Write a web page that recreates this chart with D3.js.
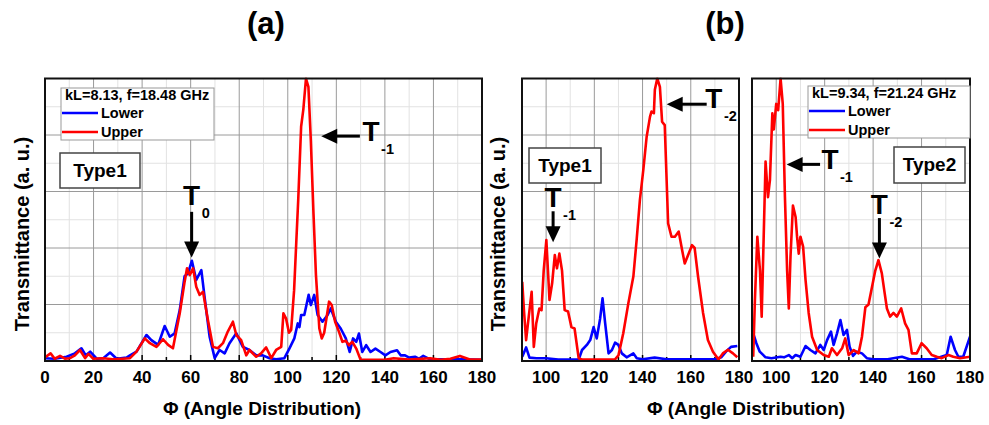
<!DOCTYPE html>
<html>
<head>
<meta charset="utf-8">
<script src="https://cdn.jsdelivr.net/npm/d3@7"></script>
<style>
  body { margin: 0; background: #fff; }
  text { font-family: "Liberation Sans", Arial, sans-serif; font-weight: bold; }
</style>
</head>
<body>
<svg id="chart" width="989" height="425"></svg>
<script>
// tick labels
var ticksA = [0, 20, 40, 60, 80, 100, 120, 140, 160, 180]
var ticksB = [100, 120, 140, 160, 180]

// panel (a): kL=8.13, f=18.48 GHz  -- [angle, transmittance]
var upperA = [[0,0.013],[2.3,0.027],[4,0.008],[6.2,0.018],[8.2,0.008],[10.3,0.01],[12.3,0.02],[14.4,0.039],[16.5,0.01],[17.9,0.025],
  [19.9,0.008],[24,0.01],[28,0.006],[32,0.008],[35,0.01],[37.7,0.033],[41.1,0.08],[43.2,0.063],[45.9,0.05],[48.6,0.077],
  [50.7,0.057],[52.7,0.045],[55.5,0.169],[57.5,0.28],[58.5,0.328],[59.6,0.304],[61,0.328],[62.3,0.263],[63.7,0.234],[65.1,0.245],
  [67.1,0.145],[69.2,0.05],[71.2,0.045],[73.3,0.063],[75.3,0.104],[77.4,0.139],[78.8,0.092],[80.8,0.074],[82.9,0.02],[84.2,0.039],
  [87,0.015],[89,0.027],[91.1,0.048],[93.2,0.01],[95.2,0.039],[97.3,0.05],[98.2,0.169],[99.3,0.15],[100.5,0.1],[101.4,0.11],
  [102.6,0.25],[103.5,0.42],[104.3,0.57],[105.5,0.83],[106.4,0.89],[107.5,1.0],[108.5,0.97],[109.5,0.78],[110.6,0.52],[111.6,0.305],
  [113,0.115],[114,0.08],[115,0.1],[117,0.21],[118.1,0.198],[119.5,0.139],[121.1,0.103],[122.5,0.068],[123.9,0.072],[125.2,0.056],
  [126.6,0.068],[128.2,0.044],[130,0.004],[135,0.004],[140,0.004],[143.6,0.01],[150,0.005],[158.6,0.01],[163,0.004],[167,0.008],
  [170.9,0.018],[175,0.005],[180,0.005]]
var lowerA = [[0,0.01],[4,0.008],[8.9,0.015],[12.3,0.027],[15,0.045],[16.8,0.02],[18.6,0.033],[21.3,0.008],[24,0.01],[26.8,0.03],
  [29.5,0.008],[33.6,0.012],[35,0.02],[37.7,0.033],[41.8,0.092],[43.8,0.074],[46.6,0.057],[49.3,0.124],[51.4,0.086],[53.4,0.098],
  [55.5,0.18],[57.5,0.3],[58.9,0.31],[60.5,0.355],[62.3,0.287],[64.4,0.322],[65.8,0.222],[67.8,0.086],[69.9,0.01],[71.9,0.039],
  [74,0.027],[76,0.063],[78.8,0.098],[81.5,0.05],[84.2,0.039],[87,0.02],[89.7,0.02],[92.5,0.01],[95.2,0.006],[98.6,0.01],
  [100.7,0.045],[102.7,0.08],[104.1,0.133],[104.8,0.12],[105.5,0.163],[106.8,0.163],[108.6,0.234],[109.5,0.198],[110.9,0.234],[112.3,0.163],
  [114.3,0.139],[116.4,0.163],[117.7,0.186],[119.8,0.139],[121.8,0.115],[123.9,0.08],[125.5,0.032],[126.9,0.08],[128.2,0.068],[129.3,0.097],
  [130.7,0.032],[132.3,0.056],[134.1,0.032],[136.1,0.044],[138.2,0.032],[140.2,0.02],[142.3,0.032],[145,0.038],[146.5,0.02],[148.3,0.02],
  [150,0.012],[152.4,0.015],[154,0.008],[155.8,0.018],[158.6,0.006],[165,0.006],[172,0.006],[180,0.004]]

// panel (b) left, Type1
var upperB1 = [[90.1,0.28],[90.8,0.18],[91.7,0.074],[92.8,0.157],[94,0.245],[94.9,0.05],[95.9,0.133],[97.2,0.186],[98.1,0.18],[99,0.32],
  [100.1,0.428],[101.4,0.216],[102.5,0.275],[103.6,0.375],[104.5,0.328],[105.5,0.38],[106.6,0.32],[107.7,0.18],[109.1,0.175],[110.5,0.12],
  [111.8,0.115],[113.5,0.01],[115,0.005],[120,0.005],[125,0.005],[128.5,0.005],[130,0.02],[132,0.098],[134.1,0.204],[136.2,0.3],
  [137.6,0.434],[138.9,0.57],[140.3,0.676],[141.7,0.794],[143.1,0.865],[143.7,0.883],[144.7,0.877],[145.1,0.96],[146.1,1.0],[147.2,0.97],
  [148.1,0.847],[149.2,0.835],[150.6,0.487],[152,0.44],[153.4,0.44],[155,0.458],[156.4,0.393],[157.5,0.345],[158.9,0.375],[160.5,0.41],
  [161.6,0.4],[163,0.3],[165.1,0.17],[167.1,0.074],[169.2,0.033],[171.5,0.005],[173.3,0.027],[175.4,0.04],[177.5,0.027],[179.3,0.013]]
var lowerB1 = [[90.1,0.015],[91.7,0.048],[93.1,0.012],[96,0.01],[100,0.01],[105,0.005],[110,0.005],[113.5,0.005],[114.9,0.039],[116.9,0.057],
  [118.3,0.074],[119.7,0.12],[121,0.08],[122.4,0.15],[123.4,0.222],[124.5,0.133],[125.9,0.027],[127.3,0.039],[128.6,0.065],[130,0.057],
  [131.4,0.027],[133.4,0.013],[136.2,0.027],[137.6,0.01],[140,0.006],[145,0.012],[150,0.006],[160,0.006],[170,0.006],[172.6,0.013],
  [174.6,0.033],[176.7,0.05],[179.3,0.053]]

// panel (b) right, Type2: kL=9.34, f=21.24 GHz
var upperB2 = [[90.5,0.015],[91.2,0.216],[92.2,0.44],[93.3,0.32],[94,0.157],[95.6,0.706],[96.6,0.58],[97.4,0.64],[98.4,0.877],[99,0.82],
  [100,0.91],[100.8,0.888],[101.8,1.0],[102.7,0.91],[103.6,0.58],[104.5,0.32],[105.2,0.186],[105.9,0.37],[106.9,0.55],[108,0.51],
  [108.6,0.44],[109.3,0.38],[110,0.44],[111.1,0.405],[112.1,0.287],[113.4,0.17],[114.8,0.086],[116.9,0.039],[119.6,0.021],[121.7,0.015],
  [123,0.045],[125.1,0.021],[127.2,0.045],[128.5,0.08],[129.9,0.021],[132,0.039],[134,0.027],[135.4,0.086],[136.8,0.19],[138.1,0.2],
  [139.5,0.26],[140.9,0.32],[142.2,0.357],[143.6,0.31],[144.6,0.25],[145.7,0.186],[147,0.157],[148.4,0.17],[149.8,0.157],[151.6,0.186],
  [153.2,0.133],[154.6,0.11],[156,0.027],[158,0.027],[160,0.063],[162.1,0.045],[164.2,0.021],[166.3,0.015],[168.3,0.01],[171.1,0.021],
  [173.1,0.015],[175.9,0.01],[180,0.015]]
var lowerB2 = [[90.5,0.098],[91.8,0.063],[93.2,0.033],[95.6,0.013],[98,0.01],[101.8,0.015],[103.2,0.013],[105.2,0.021],[106.6,0.01],[108,0.021],
  [110,0.015],[112.1,0.053],[114.1,0.039],[116.2,0.027],[118.2,0.057],[119.6,0.039],[121,0.074],[122.6,0.104],[123.7,0.057],[125.1,0.098],
  [126.5,0.145],[127.8,0.092],[129.2,0.11],[130.3,0.051],[131.7,0.018],[133.3,0.033],[135.4,0.027],[137.4,0.01],[140,0.006],[146,0.006],
  [151.9,0.015],[155,0.006],[165,0.006],[170.4,0.021],[172,0.086],[173.8,0.039],[175.2,0.015],[177.2,0.015],[180,0.086]]

var blue = "#0000ff", red = "#ff0000"
var plotTop = 78.5, plotBottom = 361

var svg = d3.select("#chart")
svg.append("rect").attr("width", 989).attr("height", 425).style("fill", "#fff")

var y = d3.scaleLinear().domain([0, 1]).range([plotBottom, plotTop])

var panels = [
  {x0: 45, x1: 482, domain: [0, 180], ticks: ticksA, upper: upperA, lower: lowerA},
  {x0: 522, x1: 739, domain: [90, 180], ticks: ticksB, upper: upperB1, lower: lowerB1},
  {x0: 752, x1: 970, domain: [90, 180], ticks: ticksB, upper: upperB2, lower: lowerB2}
]

panels.forEach(function(p, i) {
  var x = d3.scaleLinear().domain(p.domain).range([p.x0, p.x1])
  p.x = x
  var g = svg.append("g")

  // minor grid
  var minorX = d3.range(p.domain[0] + 10, p.domain[1], 10).filter(function(d){ return d % 20 != 0 })
  g.selectAll(".mx").data(minorX).enter().append("line")
    .attr("x1", x).attr("x2", x).attr("y1", plotTop).attr("y2", plotBottom)
    .style("stroke", "#e2e2e2").style("stroke-width", 1)
  g.selectAll(".my").data([0.1, 0.3, 0.5, 0.7, 0.9]).enter().append("line")
    .attr("x1", p.x0).attr("x2", p.x1).attr("y1", y).attr("y2", y)
    .style("stroke", "#e2e2e2").style("stroke-width", 1)
  // major grid
  var majorX = d3.range(p.domain[0] + 10, p.domain[1], 10).filter(function(d){ return d % 20 == 0 })
  g.selectAll(".gx").data(majorX).enter().append("line")
    .attr("x1", x).attr("x2", x).attr("y1", plotTop).attr("y2", plotBottom)
    .style("stroke", "#9a9a9a").style("stroke-width", 1)
  g.selectAll(".gy").data([0.2, 0.4, 0.6, 0.8]).enter().append("line")
    .attr("x1", p.x0).attr("x2", p.x1).attr("y1", y).attr("y2", y)
    .style("stroke", "#9a9a9a").style("stroke-width", 1)

  // inward ticks on the bottom
  var allX = d3.range(p.domain[0] + 10, p.domain[1], 10)
  g.selectAll(".tk").data(allX).enter().append("line")
    .attr("x1", x).attr("x2", x).attr("y1", plotBottom)
    .attr("y2", function(d){ return d % 20 == 0 ? plotBottom - 6 : plotBottom - 4 })
    .style("stroke", "#000").style("stroke-width", 1.5)

  // tick labels
  g.selectAll(".tl").data(p.ticks).enter().append("text")
    .attr("x", x).attr("y", 383)
    .attr("text-anchor", "middle")
    .attr("font-size", "17px")
    .text(function(d){ return d })

  // clip
  svg.append("clipPath").attr("id", "clip" + i).append("rect")
    .attr("x", p.x0).attr("y", plotTop - 1).attr("width", p.x1 - p.x0).attr("height", plotBottom - plotTop + 1)

  var line = d3.line().x(function(d){ return x(d[0]) }).y(function(d){ return y(d[1]) })
  var lg = svg.append("g").attr("clip-path", "url(#clip" + i + ")")
  lg.append("path").attr("d", line(p.lower))
    .style("fill", "none").style("stroke", blue).style("stroke-width", 2.6).style("stroke-linejoin", "round")
  lg.append("path").attr("d", line(p.upper))
    .style("fill", "none").style("stroke", red).style("stroke-width", 2.6).style("stroke-linejoin", "round")

  // frame
  svg.append("rect")
    .attr("x", p.x0).attr("y", plotTop).attr("width", p.x1 - p.x0).attr("height", plotBottom - plotTop)
    .style("fill", "none").style("stroke", "#111").style("stroke-width", 2)
})

// titles and axis labels
svg.append("text").attr("x", 266).attr("y", 34).attr("text-anchor", "middle").attr("font-size", "31px").text("(a)")
svg.append("text").attr("x", 725).attr("y", 34).attr("text-anchor", "middle").attr("font-size", "31px").text("(b)")

svg.append("text").attr("x", 262).attr("y", 415).attr("text-anchor", "middle").attr("font-size", "19px").text("\u03A6 (Angle Distribution)")
svg.append("text").attr("x", 746).attr("y", 415).attr("text-anchor", "middle").attr("font-size", "19px").text("\u03A6 (Angle Distribution)")

;[29, 505].forEach(function(xx) {
  svg.append("text")
    .attr("transform", "translate(" + xx + "," + 234 + ") rotate(-90)")
    .attr("text-anchor", "middle")
    .attr("font-size", "20px")
    .text("Transmittance (a. u.)")
})

// legends
function legend(x0, y0, w, title) {
  var g = svg.append("g").attr("transform", "translate(" + x0 + "," + y0 + ")")
  g.append("rect").attr("width", w).attr("height", 52)
    .style("fill", "#fff").style("stroke", "#999").style("stroke-width", 1)
  g.append("text").attr("x", 4).attr("y", 12).attr("font-size", "14.5px").text(title)
  g.append("line").attr("x1", 1).attr("x2", 37).attr("y1", 25).attr("y2", 25)
    .style("stroke", blue).style("stroke-width", 2.6)
  g.append("text").attr("x", 40).attr("y", 30).attr("font-size", "14.5px").text("Lower")
  g.append("line").attr("x1", 1).attr("x2", 37).attr("y1", 44).attr("y2", 44)
    .style("stroke", red).style("stroke-width", 2.6)
  g.append("text").attr("x", 40).attr("y", 49).attr("font-size", "14.5px").text("Upper")
}
legend(61, 88, 153, "kL=8.13, f=18.48 GHz")
legend(808, 86, 162, "kL=9.34, f=21.24 GHz")

// Type boxes
function typeBox(x0, y0, w, h, label) {
  svg.append("rect").attr("x", x0).attr("y", y0).attr("width", w).attr("height", h)
    .style("fill", "#fff").style("stroke", "#444").style("stroke-width", 1.5)
  svg.append("text").attr("x", x0 + w / 2).attr("y", y0 + 24).attr("text-anchor", "middle")
    .attr("font-size", "19px").text(label)
}
typeBox(60, 153, 80, 35, "Type1")
typeBox(529, 148, 72, 35, "Type1")
typeBox(894, 147, 71, 36, "Type2")

// arrows with filled heads
function arrow(x1, y1, x2, y2) {
  var dx = x2 - x1, dy = y2 - y1, len = Math.sqrt(dx * dx + dy * dy)
  var ux = dx / len, uy = dy / len, hl = 16, hw = 7.5
  var bx = x2 - ux * hl, by = y2 - uy * hl
  svg.append("line").attr("x1", x1).attr("y1", y1).attr("x2", bx + ux).attr("y2", by + uy)
    .style("stroke", "#000").style("stroke-width", 3)
  svg.append("path")
    .attr("d", "M" + x2 + "," + y2 + "L" + (bx - uy * hw) + "," + (by + ux * hw) +
      "L" + (bx + uy * hw) + "," + (by - ux * hw) + "Z")
    .style("fill", "#000")
}
function tLabel(cx, base, sub) {
  svg.append("text").attr("x", cx).attr("y", base).attr("text-anchor", "middle")
    .attr("font-size", "28px").text("T")
  svg.append("text").attr("x", cx + 10).attr("y", base + 13).attr("font-size", "14.5px").text(sub)
}

// annotations, in data units of each panel
var pa = panels[0], pb1 = panels[1], pb2 = panels[2]

tLabel(pa.x(60.4), y(0.552), "0")
arrow(pa.x(60.4), y(0.528), pa.x(60.4), y(0.366))

tLabel(pa.x(134.3), y(0.777), "-1")
arrow(pa.x(129.7), y(0.796), pa.x(113.8), y(0.796))

tLabel(pb1.x(102.9), y(0.545), "-1")
arrow(pb1.x(102.9), y(0.53), pb1.x(102.9), y(0.42))

tLabel(pb1.x(169.6), y(0.897), "-2")
arrow(pb1.x(166.6), y(0.909), pb1.x(150), y(0.909))

tLabel(pb2.x(122.2), y(0.68), "-1")
arrow(pb2.x(118.1), y(0.696), pb2.x(104.3), y(0.696))

tLabel(pb2.x(142.6), y(0.522), "-2")
arrow(pb2.x(142.6), y(0.506), pb2.x(142.6), y(0.363))
</script>
</body>
</html>
